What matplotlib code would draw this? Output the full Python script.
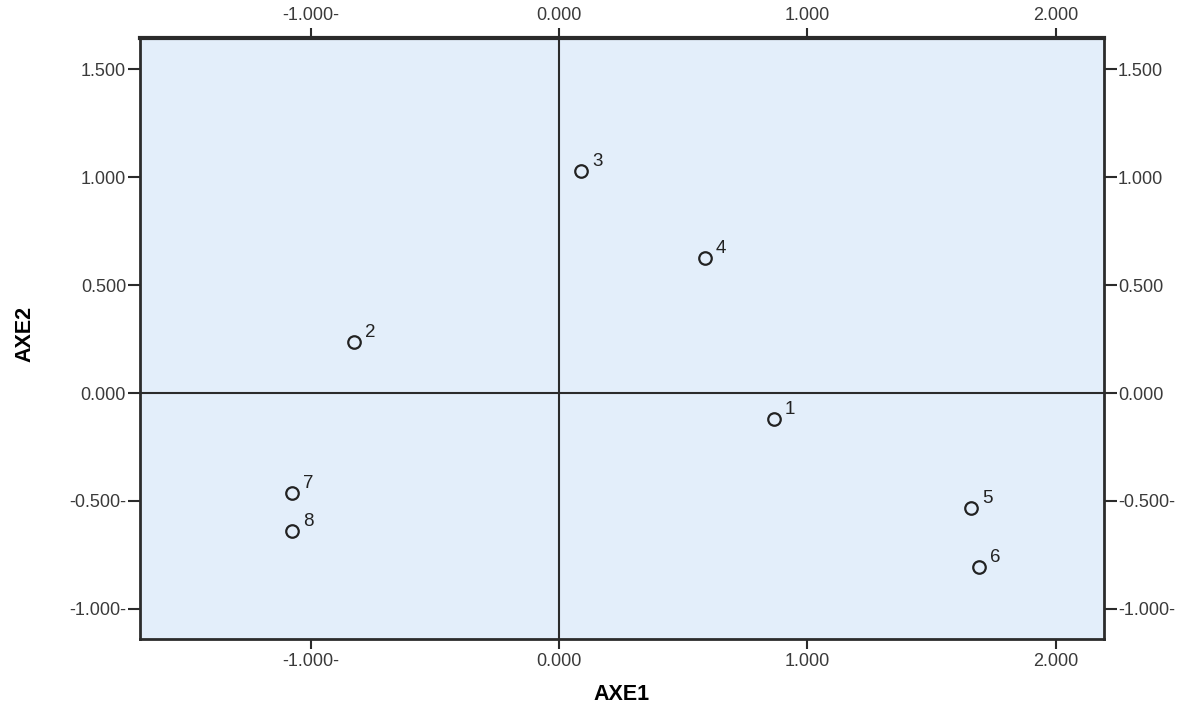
import matplotlib
matplotlib.use("Agg")
import matplotlib.pyplot as plt
from matplotlib.ticker import FixedLocator, FuncFormatter

plt.rcParams['font.family'] = ['Liberation Sans', 'DejaVu Sans']

# coordonnees des individus (AXE1, AXE2)
etiquettes = ['1', '2', '3', '4', '5', '6', '7', '8']
axe1 = [0.866, -0.826, 0.089, 0.588, 1.659, 1.691, -1.075, -1.075]
axe2 = [-0.120, 0.236, 1.028, 0.625, -0.532, -0.806, -0.463, -0.639]

xticks = [-1.0, 0.0, 1.0, 2.0]
yticks = [-1.0, -0.5, 0.0, 0.5, 1.0, 1.5]

def fmt_spss(v, pos=None):
    # style SPSS : le signe moins est repete a la fin
    if v < 0:
        return '-%.3f-' % abs(v)
    return '%.3f' % v

coul_txt = '#3a3a3a'
coul_ax = '#2b2b2b'

fig = plt.figure(figsize=(11.9, 7.08), dpi=100)
ax = fig.add_axes([0.1176, 0.0975, 0.8101, 0.8488])
ax.set_facecolor('#e3eefa')

ax.axhline(0, color=coul_ax, lw=1.5, zorder=1)
ax.axvline(0, color=coul_ax, lw=1.5, zorder=1)

ax.plot(axe1, axe2, linestyle='none', marker='o', markersize=9,
        markerfacecolor='none', markeredgecolor='#222222', markeredgewidth=1.6, zorder=3)
for x, y, t in zip(axe1, axe2, etiquettes):
    ax.annotate(t, (x, y), xytext=(8, 1), textcoords='offset points',
                fontsize=13.5, color='#222222', ha='left', va='bottom')

ax.set_xlim(-1.687, 2.195)
ax.set_ylim(-1.139, 1.644)

ax.xaxis.set_major_locator(FixedLocator(xticks))
ax.yaxis.set_major_locator(FixedLocator(yticks))
ax.xaxis.set_major_formatter(FuncFormatter(fmt_spss))
ax.yaxis.set_major_formatter(FuncFormatter(fmt_spss))

ax.tick_params(axis='x', which='both', top=True, labeltop=True, bottom=True, labelbottom=True,
               length=7, width=1.5, pad=3, labelsize=13, labelcolor=coul_txt, color=coul_ax)
ax.tick_params(axis='y', which='both', left=True, labelleft=True, right=True, labelright=True,
               length=9, width=1.5, pad=1, labelsize=13, labelcolor=coul_txt, color=coul_ax)

for cote, lw in [('top', 3), ('bottom', 2), ('left', 2), ('right', 2)]:
    ax.spines[cote].set_linewidth(lw)
    ax.spines[cote].set_color(coul_ax)

ax.set_xlabel('AXE1', fontsize=15.5, fontweight='bold')
ax.set_ylabel('AXE2', fontsize=15.5, fontweight='bold')
ax.xaxis.set_label_coords(0.5, -0.075)
ax.yaxis.set_label_coords(-0.108, 0.508)

fig.savefig('out.png', dpi=100)
